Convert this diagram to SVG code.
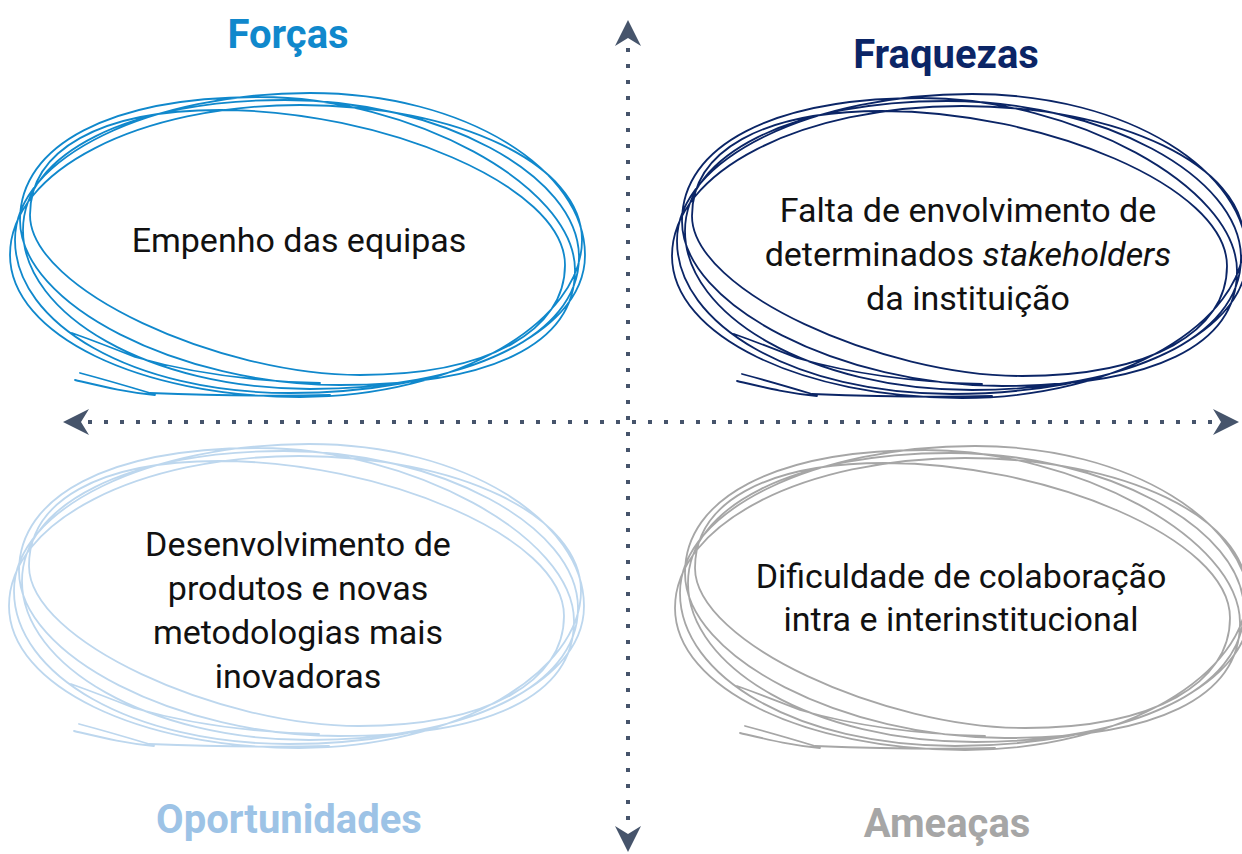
<svg xmlns="http://www.w3.org/2000/svg" width="1242" height="854" viewBox="0 0 1242 854">
<style>
.sc{fill:none;stroke-width:1.8;stroke-linecap:round;stroke-linejoin:round}
.t{font-family:Roboto,"Liberation Sans",sans-serif;font-size:34px;fill:#111;text-anchor:middle}
.h{font-family:Roboto,"Liberation Sans",sans-serif;font-size:40px;font-weight:bold;text-anchor:middle}
.ax{fill:none;stroke:#46546b;stroke-width:4;stroke-dasharray:4 12}
.ah{fill:#46546b}
</style>
<defs>
<path id="scr" d="M-285,-5 C-285,-89 -147,-152 10,-152 C167,-152 285,-74 285,10 C285,94 147,148 -10,148 C-167,148 -285,79 -285,-5
M-280,-25 C-280,-100 -190,-148 -40,-148 C110,-148 275,-60 275,25 C275,100 190,140 40,140 C-120,140 -280,60 -280,-25
M-290,10 C-290,-75 -160,-140 0,-140 C160,-140 282,-80 282,-5 C282,75 160,152 0,152 C-160,152 -290,90 -290,10
M-270,-30 C-270,-95 -200,-135 -80,-135 C80,-135 265,-60 265,20 C265,85 190,130 60,130 C-80,130 -270,45 -270,-30
M-277,-15 C-277,-92 -170,-145 -15,-145 C140,-145 279,-70 279,12 C279,92 165,144 10,144 C-150,144 -277,70 -277,-15
M-228,88 C-200,98 -185,104 -165,112 C-120,125 -60,136 20,138
M-220,128 C-190,136 -170,142 -150,148 C-100,150 -40,152 30,150
M-225,135 C-195,142 -175,147 -145,150"/>
</defs>
<g id="connectors">
<line class="ax" x1="628" y1="48" x2="628" y2="828"/>
<line class="ax" x1="88" y1="422" x2="1216" y2="422"/>
<path class="ah" d="M628,20 L641,46 L628,38 L615,46 Z"/>
<path class="ah" d="M628,852 L641,826 L628,834 L615,826 Z"/>
<path class="ah" d="M63,422 L89,409 L81,422 L89,435 Z"/>
<path class="ah" d="M1239,422 L1213,409 L1221,422 L1213,435 Z"/>
</g>
<g id="forcas">
<use href="#scr" class="sc" stroke="#1088cc" transform="translate(300,245)"/>
<text class="h" x="288" y="48" fill="#1088cc">Forças</text>
<text class="t" x="299" y="252">Empenho das equipas</text>
</g>
<g id="fraquezas">
<use href="#scr" class="sc" stroke="#0b2566" transform="translate(962,246)"/>
<text class="h" x="946" y="68" fill="#0b2566">Fraquezas</text>
<text class="t" x="968" y="222">Falta de envolvimento de</text>
<text class="t" x="968" y="266">determinados <tspan font-style="italic">stakeholders</tspan></text>
<text class="t" x="968" y="310">da instituição</text>
</g>
<g id="oportunidades">
<use href="#scr" class="sc" stroke="#bdd7ee" transform="translate(299,596)"/>
<text class="h" x="289" y="833" fill="#9dc3e6">Oportunidades</text>
<text class="t" x="298" y="556">Desenvolvimento de</text>
<text class="t" x="298" y="600">produtos e novas</text>
<text class="t" x="298" y="644">metodologias mais</text>
<text class="t" x="298" y="688">inovadoras</text>
</g>
<g id="ameacas">
<use href="#scr" class="sc" stroke="#a6a6a6" transform="translate(965,598)"/>
<text class="h" x="947" y="837" fill="#a6a6a6">Ameaças</text>
<text class="t" x="961" y="588">Dificuldade de colaboração</text>
<text class="t" x="961" y="631">intra e interinstitucional</text>
</g>
</svg>
